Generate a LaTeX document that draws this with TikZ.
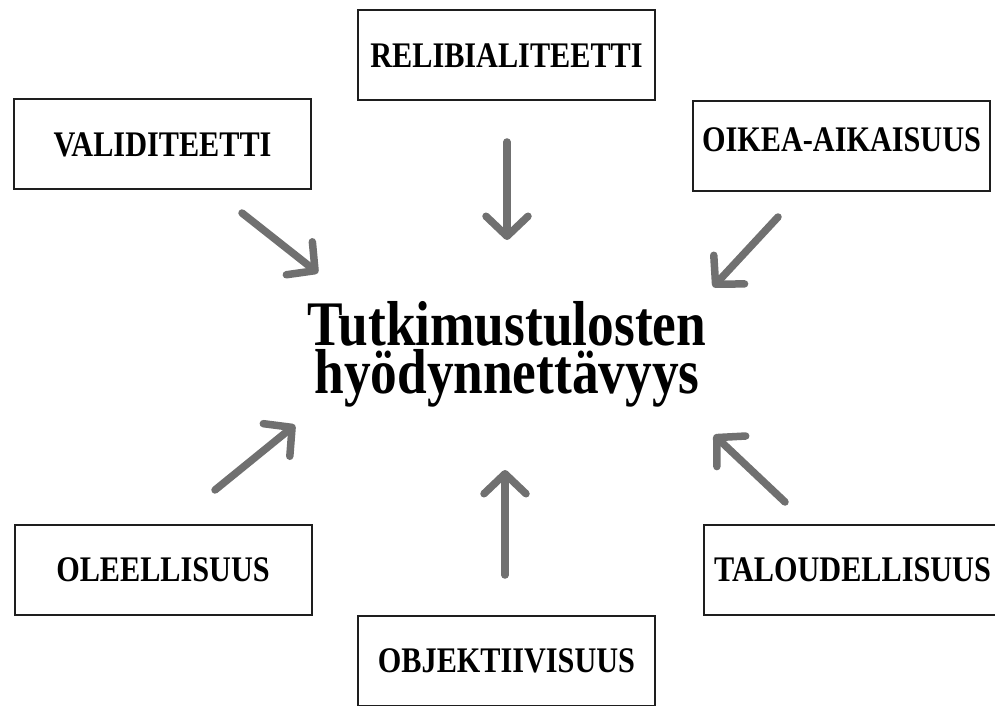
\documentclass[tikz,border=0pt]{standalone}
\usepackage{graphicx}
\usepackage{fontspec}
\setmainfont{Liberation Serif}
\usetikzlibrary{arrows.meta}
\definecolor{arrowgray}{RGB}{112,112,112}
\definecolor{boxline}{RGB}{30,30,30}
\newcommand{\squeeze}[1]{\scalebox{0.84}[1]{#1}}

\begin{document}
\begin{tikzpicture}[x=1pt, y=1pt,
  box/.style={draw=boxline, line width=2pt, minimum width=297pt, minimum height=90pt, inner sep=0pt, font=\fontsize{36}{40}\selectfont\bfseries},
  push/.style={draw=arrowgray, line width=7.5pt, line cap=round, -{Straight Barb[length=20pt, width=42pt, round]}}]
\useasboundingbox (0,0) rectangle (995,705);
\clip (0,0) rectangle (995,705);
\node[font=\fontsize{63.5}{48}\selectfont\bfseries, align=center] (goal) at (507,351) {\squeeze{Tutkimustulosten}\\\squeeze{hyödynnettävyys}};
\node[box] (rel) at (506.5,649.5) {\squeeze{RELIBIALITEETTI}};
\node[box] (val) at (162.5,560.5) {\squeeze{VALIDITEETTI}};
\node[box, text depth=13pt] (oik) at (841.5,558.5) {\squeeze{OIKEA-AIKAISUUS}};
\node[box] (ole) at (163,135) {\squeeze{OLEELLISUUS}};
\node[box] (tal) at (852.5,135.5) {\squeeze{TALOUDELLISUUS}};
\node[box] (obj) at (506.5,44.5) {\squeeze{OBJEKTIIVISUUS}};
\coordinate (valA) at (242,492);
\coordinate (valB) at (318,432);
\coordinate (relA) at (507,563);
\coordinate (relB) at (507,465);
\coordinate (oikA) at (778,488);
\coordinate (oikB) at (713,418);
\coordinate (oleA) at (215,215);
\coordinate (oleB) at (295,280);
\coordinate (objA) at (505,130);
\coordinate (objB) at (505,235);
\coordinate (talA) at (785,203);
\coordinate (talB) at (714,270);
\draw[push] (valA) -- (valB);
\draw[push] (relA) -- (relB);
\draw[push] (oikA) -- (oikB);
\draw[push] (oleA) -- (oleB);
\draw[push] (objA) -- (objB);
\draw[push] (talA) -- (talB);
\end{tikzpicture}
\end{document}
